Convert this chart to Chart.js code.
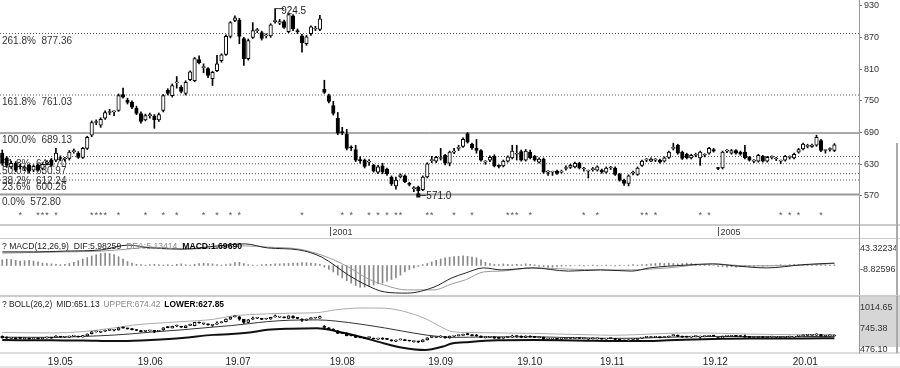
<!DOCTYPE html>
<html>
<head>
  <title>K-line MACD BOLL</title>
  <script src="https://cdn.jsdelivr.net/npm/chart.js@4"></script>
  <style>
    body { margin: 0; background: #fff; width: 900px; height: 368px; position: relative; overflow: hidden; }
    canvas { position: absolute; left: 0; }
    #price { top: 0; }
    #macd { top: 239px; }
    #boll { top: 296px; }
  </style>
</head>
<body>
  <canvas id="price" width="900" height="239"></canvas>
  <canvas id="macd" width="900" height="57"></canvas>
  <canvas id="boll" width="900" height="72"></canvas>

  <script>
    const FONT = '"Liberation Sans", Arial, sans-serif';
    Chart.defaults.font.family = FONT;
    Chart.defaults.color = '#333';

    // daily candles, Apr 2019 - Jan 2020
    const candleOpen = [651,642,625,632,626,622,628,619,628,622,632,638,638,642,640,641,654,651,643,660,685,709,704,717,728,729,732,762,751,747,736,726,714,722,721,714,732,770,760,784,776,764,790,788,828,813,811,792,807,826,838,872,902,903,868,830,870,883,879,873,873,900,897,900,881,911,882,873,858,877,886,885,772,760,741,717,691,687,662,658,638,638,634,628,615,627,621,606,589,606,608,593,584,587,582,606,637,636,641,647,632,653,660,664,688,668,660,656,634,638,645,627,627,636,642,649,654,638,653,645,634,640,615,615,617,615,622,624,625,632,621,617,620,619,619,615,623,623,611,600,594,613,611,628,638,636,638,638,636,643,660,666,653,649,642,647,642,647,651,658,623,623,655,651,656,653,653,643,636,636,645,636,643,640,636,638,643,642,653,659,664,664,666,675,656,658,656];
    const candleHigh = [657,645,636,635,630,627,630,629,631,633,637,641,660,646,643,656,659,654,662,683,712,714,718,731,734,731,763,774,755,750,740,729,725,727,724,727,762,773,782,796,779,788,807,832,835,820,813,806,836,839,875,900,911,906,870,867,898,887,882,877,896,924.5,904,903,916,913,886,876,874,892,891,912,789,763,749,728,700,696,665,666,644,640,639,630,628,632,623,608,606,612,610,596,588,589,608,633,645,645,660,649,655,660,666,680,690,670,677,658,637,646,648,629,638,646,666,666,657,658,657,647,642,642,618,617,619,619,627,630,634,634,624,619,624,627,621,625,626,625,613,602,610,617,625,638,641,642,641,640,644,655,670,668,655,651,649,651,655,650,662,660,624,655,658,658,658,655,666,645,639,649,647,645,646,643,638,647,646,651,660,670,668,668,685,677,657,661,669];
    const candleLow = [628,624,622,616,621,618,614,616,617,619,629,626,635,637,636,638,651,641,641,658,682,705,700,715,724,722,730,755,744,735,724,708,712,717,698,711,729,761,757,774,765,761,788,786,820,803,794,779,805,823,836,869,900,858,817,827,868,879,865,869,870,897,894,887,879,883,877,842,855,874,883,883,764,746,723,686,686,657,656,635,632,623,628,615,612,612,609,590,583,604,595,589,578,571,580,604,633,633,638,629,627,650,656,662,670,658,651,636,630,635,625,623,625,634,640,638,636,636,640,636,632,613,609,609,611,613,619,622,623,621,617,604,617,617,613,613,620,609,598,590,589,610,609,626,635,635,635,632,634,641,657,649,639,640,640,644,628,644,649,653,620,621,652,649,649,647,640,636,633,634,634,634,640,637,631,636,640,640,651,657,661,662,664,654,651,655,654];
    const candleClose = [632,628,632,619,625,624,617,626,619,630,633,628,651,641,640,653,655,643,660,681,709,710,715,728,729,730,760,757,747,738,726,711,722,723,714,724,760,764,779,785,768,785,805,830,822,813,798,804,820,837,872,898,907,872,830,864,883,884,868,873,894,902,900,889,913,886,881,860,871,890,887,905,766,749,726,689,690,660,661,638,637,626,634,617,625,615,612,593,600,610,597,592,586,580,606,631,638,643,642,632,653,654,661,677,672,661,656,638,634,643,627,626,636,644,655,650,638,655,642,638,640,615,615,616,613,617,623,628,632,623,621,618,621,625,615,623,623,611,600,594,608,614,623,636,638,640,638,634,642,653,661,651,641,642,647,648,653,647,660,655,622,653,655,656,651,649,642,638,636,647,636,643,643,640,637,645,643,649,658,668,665,666,681,656,656,658,667];

    const priceTicks = [930, 870, 810, 750, 690, 630, 570];
    const fibPct = ['0.0%', '23.6%', '38.2%', '50.0%', '61.8%', '100.0%', '161.8%', '261.8%'];
    const fibLevel = [572.80, 600.26, 612.24, 630.97, 644.70, 689.13, 761.03, 877.36];
    const starIdx = [4,8,9,10,12,20,21,22,23,26,32,36,39,45,48,51,53,67,76,78,82,84,86,88,89,95,96,101,105,113,114,115,118,130,133,143,144,146,156,158,174,176,178,183];
    const yearMarkIdx = [73.3, 160.0];
    const yearMarkText = ['2001', '2005'];

    const macdHist = [14,16,15,13,11,12,13,11,9,6,5,4,3,2,3,5,8,12,16,20,24,27,30,31,30,27,22,16,10,6,3,2,1,2,3,2,1,2,1,3,4,2,1,3,5,6,5,4,2,1,2,4,7,8,5,2,1,0,2,3,3,4,4,5,5,6,6,7,7,6,5,3,-4,-10,-16,-24,-31,-38,-44,-50,-54,-54,-52,-49,-46,-44,-39,-35,-31,-24,-16,-10,-6,-2,2,5,9,13,16,19,21,22,23,24,23,21,19,14,8,5,3,2,4,3,2,3,2,4,3,2,-2,-3,-5,-4,-3,-2,-1,-1,0,1,-1,0,1,-1,0,1,0,-1,1,0,1,2,1,2,3,4,5,6,5,6,5,4,5,6,5,4,3,2,1,0,-2,-3,-4,-3,-4,-3,-2,-3,-2,-1,-2,-1,0,1,2,1,2,3,2,3,2,1,2,3,2,1,1.6969];
    const difIdx = [0,7,14.1,22.1,28.1,33.2,40.2,48.2,54.3,59.3,66.3,71.4,77.4,81.4,85.4,90.5,96.5,100.5,103.5,107.6,111.6,118.6,126.6,133.7,140.7,144.7,152.8,158.8,163.8,170.9,178.9,181.9,186];
    const difVal = [34,34,36,39,51,44,41,49,54,44,39,21,-24,-49,-66,-69,-54,-31,-19,-6,-11,-6,-14,-11,-14,-6,1,4,-1,-6,2,4,5.98259];
    const deaIdx = [0,14.1,22.1,28.1,33.2,40.2,48.2,54.3,59.3,66.3,71.4,77.4,81.4,85.4,90.5,96.5,100.5,103.5,107.6,111.6,118.6,126.6,133.7,140.7,144.7,148.8,158.8,166.9,178.9,186];
    const deaVal = [31,34,36,41,46,41,44,49,46,41,26,-4,-31,-49,-61,-61,-46,-36,-16,-14,-6,-9,-11,-11,-9,-6,4,-1,1,5.13414];
    const macdTicks = [43.32234, -8.82596];

    const bollIdx = [0,11.1,18.1,25.1,29.2,33.2,40.2,47.2,51.3,55.3,59.3,64.3,70.4,74.4,80.4,85.4,89.5,94.5,98.5,100.5,104.5,110.6,118.6,124.6,130.7,136.7,142.7,148.8,154.8,160.8,166.9,172.9,178.9,186];
    const bollUpper = [700,695,712,760,795,815,840,870,912,930,940,948,955,990,1014.65,1012,975,880,760,712,700,695,690,680,672,665,675,690,695,690,680,675,672,674.42];
    const bollMid = [640,638,650,668,685,705,735,770,790,815,840,858,862,848,805,760,718,670,645,638,640,645,645,638,630,625,628,640,648,650,647,645,648,651.13];
    const bollLower = [604,600,598,590,595,605,630,670,680,700,735,750,756,720,640,560,505,476.10,520,560,580,600,605,602,595,590,590,600,610,620,625,625,625,627.85];
    const bollTicks = [1014.65, 745.38, 476.10];

    const monthIdx = [10.2, 30.3, 49.9, 73.2, 95.2, 115.1, 133.6, 156.6, 176.7];
    const monthText = ['19.05', '19.06', '19.07', '19.08', '19.09', '19.10', '19.11', '19.12', '20.01'];

    const upDown = candleClose.map((c, k) => c >= candleOpen[k]);

    function xScale() {
      return { type: 'linear', min: -0.5, max: 191.5, offset: false, bounds: 'data', grace: 0, display: false };
    }

    function rightAxis(min, max, ticks, fmt, tickLen) {
      return {
        position: 'right', min: min, max: max,
        afterFit: s => { s.width = 41; s.paddingTop = 0; s.paddingBottom = 0; },
        afterBuildTicks: s => { s.ticks = ticks.map(v => ({ value: v })); },
        ticks: { callback: v => fmt(v), color: '#333', font: { size: 9 }, padding: tickLen ? 2 : 1, autoSkip: false },
        grid: { drawOnChartArea: false, drawTicks: tickLen > 0, tickLength: tickLen, color: '#777' },
        border: { color: '#999' }
      };
    }

    function candleSets(thick) {
      return [
        {
          type: 'bar', order: 2, grouped: false, barThickness: 1, minBarLength: 1,
          data: candleLow.map((l, k) => ({ x: k, y: [l, candleHigh[k]] })),
          backgroundColor: '#000'
        },
        {
          type: 'bar', order: 1, grouped: false, barThickness: thick, minBarLength: 1,
          data: candleOpen.map((o, k) => ({ x: k, y: [o, candleClose[k]] })),
          backgroundColor: upDown.map(u => u ? '#fff' : '#000'),
          borderColor: '#000', borderWidth: 1, borderSkipped: false
        }
      ];
    }

    function lineSet(idx, vals, color, width, order) {
      return {
        type: 'line', order: order,
        data: idx.map((i, k) => ({ x: i, y: vals[k] })),
        borderColor: color, borderWidth: width, pointRadius: 0,
        cubicInterpolationMode: 'monotone', fill: false
      };
    }

    function vline(ctx, x, y0, y1, color, w) {
      ctx.strokeStyle = color; ctx.lineWidth = w;
      ctx.beginPath(); ctx.moveTo(x, y0); ctx.lineTo(x, y1); ctx.stroke();
    }
    function hline(ctx, y, x0, x1, color, w) {
      ctx.strokeStyle = color; ctx.lineWidth = w;
      ctx.beginPath(); ctx.moveTo(x0, y); ctx.lineTo(x1, y); ctx.stroke();
    }

    function drawParts(ctx, parts, x, y, size, gap) {
      parts.forEach(p => {
        ctx.font = (p[2] ? 'bold ' : '') + size + 'px ' + FONT;
        ctx.fillStyle = p[1];
        ctx.fillText(p[0], x, y);
        x += ctx.measureText(p[0]).width + gap;
      });
    }

    const fibSets = fibLevel.map((lv, k) => ({
      type: 'line', order: 3,
      data: [{ x: -0.5, y: lv }, { x: 191.5, y: lv }],
      borderColor: k === 0 ? '#999' : '#555',
      borderWidth: k === 0 ? 2 : 1,
      borderDash: (k === 0 || k === 5) ? [] : [1, 2],
      pointRadius: 0
    }));

    const priceText = {
      id: 'priceText',
      beforeDatasetsDraw(chart) {
        const { ctx, scales: { y } } = chart;
        ctx.save();
        ctx.font = '10px ' + FONT;
        ctx.fillStyle = '#333';
        fibLevel.forEach((lv, k) => {
          ctx.fillText(fibPct[k] + '  ' + lv.toFixed(2), 2, y.getPixelForValue(lv) + 10);
        });
        ctx.restore();
      },
      afterDatasetsDraw(chart) {
        const { ctx, scales: { x, y } } = chart;
        ctx.save();
        ctx.font = '10px ' + FONT;
        ctx.fillStyle = '#222';
        const hi = candleHigh.indexOf(Math.max(...candleHigh));
        const lo = candleLow.indexOf(Math.min(...candleLow));
        let px = x.getPixelForValue(hi), py = y.getPixelForValue(candleHigh[hi]);
        hline(ctx, py, px, px + 9, '#333', 1);
        ctx.fillText(String(candleHigh[hi]), px + 6, py + 5);
        px = x.getPixelForValue(lo); py = y.getPixelForValue(candleLow[lo]);
        ctx.fillStyle = '#000';
        ctx.fillRect(px - 2, py - 2, 4, 4);
        hline(ctx, py, px, px + 8, '#333', 1);
        ctx.fillStyle = '#222';
        ctx.fillText(candleLow[lo].toFixed(1), px + 8, py + 4);

        ctx.font = '9px ' + FONT;
        ctx.fillStyle = '#555';
        ctx.textAlign = 'center';
        starIdx.forEach(i => {
          ctx.fillText('*', x.getPixelForValue(i), 218);
        });
        ctx.textAlign = 'left';

        hline(ctx, 225, 0, 900, '#ccc', 2);
        hline(ctx, 238.5, 0, 900, '#ccc', 1);
        vline(ctx, 859.5, 224, 239, '#999', 1);
        vline(ctx, 897, 143, 239, '#aaa', 2);
        yearMarkIdx.forEach((i, k) => {
          const mx = Math.round(x.getPixelForValue(i)) + 0.5;
          vline(ctx, mx, 227, 236, '#555', 1);
          ctx.fillStyle = '#333';
          ctx.fillText(yearMarkText[k], mx + 2, 235);
        });
        ctx.restore();
      }
    };

    new Chart(document.getElementById('price'), {
      type: 'bar',
      data: { datasets: [...fibSets, ...candleSets(3.5)] },
      options: {
        responsive: false, animation: false, events: [],
        layout: { padding: { bottom: 15 } },
        plugins: { legend: { display: false }, tooltip: { enabled: false } },
        scales: { x: xScale(), y: rightAxis(517, 940.8, priceTicks, v => String(v), 3) }
      },
      plugins: [priceText]
    });

    const macdText = {
      id: 'macdText',
      afterDatasetsDraw(chart) {
        const { ctx } = chart;
        ctx.save();
        drawParts(ctx, [['? MACD(12,26,9)', '#222'], ['DIF:5.98259', '#222'], ['DEA:5.13414', '#888'], ['MACD:1.69690', '#000', true]], 2, 10, 8.6, 5);
        vline(ctx, 859.5, 0, 57, '#999', 1);
        vline(ctx, 897, 0, 57, '#aaa', 2);
        hline(ctx, 56.5, 0, 900, '#ccc', 1);
        ctx.restore();
      }
    };

    new Chart(document.getElementById('macd'), {
      type: 'bar',
      data: {
        datasets: [
          {
            type: 'bar', order: 3, grouped: false, barThickness: 1,
            data: macdHist.map((v, k) => ({ x: k, y: v })),
            backgroundColor: '#888'
          },
          lineSet(deaIdx, deaVal, '#999', 1, 2),
          lineSet(difIdx, difVal, '#222', 1, 1)
        ]
      },
      options: {
        responsive: false, animation: false, events: [],
        plugins: { legend: { display: false }, tooltip: { enabled: false } },
        scales: { x: xScale(), y: rightAxis(-76.25, 66.25, macdTicks, v => v.toFixed(5), 0) }
      },
      plugins: [macdText]
    });

    const bollText = {
      id: 'bollText',
      beforeDraw(chart) {
        const { ctx } = chart;
        ctx.save();
        ctx.fillStyle = '#d6d6d6';
        ctx.fillRect(860, 0, 40, 51);
        ctx.restore();
      },
      afterDatasetsDraw(chart) {
        const { ctx, scales: { x } } = chart;
        ctx.save();
        drawParts(ctx, [['? BOLL(26,2)', '#222'], ['MID:651.13', '#222'], ['UPPER:674.42', '#888'], ['LOWER:627.85', '#000', true]], 2, 11, 8.4, 4);
        hline(ctx, 0.5, 0, 900, '#ccc', 1);
        hline(ctx, 57, 0, 900, '#bbb', 1);
        hline(ctx, 71, 0, 900, '#ccc', 1);
        vline(ctx, 859.5, 0, 57, '#999', 1);
        vline(ctx, 897, 0, 57, '#aaa', 2);
        ctx.font = '10px ' + FONT;
        ctx.fillStyle = '#222';
        monthIdx.forEach((i, k) => {
          ctx.fillText(monthText[k], x.getPixelForValue(i), 69);
        });
        ctx.restore();
      }
    };

    new Chart(document.getElementById('boll'), {
      type: 'bar',
      data: {
        datasets: [
          ...candleSets(3),
          lineSet(bollIdx, bollUpper, '#aaa', 1, 4),
          lineSet(bollIdx, bollMid, '#333', 1, 4),
          lineSet(bollIdx, bollLower, '#111', 2, 4)
        ]
      },
      options: {
        responsive: false, animation: false, events: [],
        layout: { padding: { bottom: 15 } },
        plugins: { legend: { display: false }, tooltip: { enabled: false } },
        scales: { x: xScale(), y: rightAxis(437.6, 1168.5, bollTicks, v => v.toFixed(2), 0) }
      },
      plugins: [bollText]
    });
  </script>
</body>
</html>
